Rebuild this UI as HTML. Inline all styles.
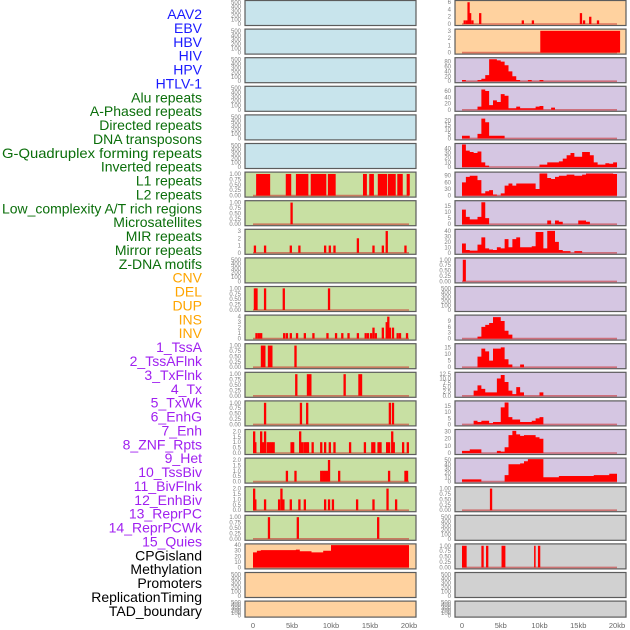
<!DOCTYPE html>
<html><head><meta charset="utf-8"><style>
html,body{margin:0;padding:0;background:#fff}
svg{display:block;font-family:"Liberation Sans",sans-serif}
</style></head><body>
<svg id="chart" width="630" height="630" viewBox="0 0 630 630"></svg>
<script>
// ---------- data ----------
const trackLabels = ["AAV2","EBV","HBV","HIV","HPV","HTLV-1","Alu repeats","A-Phased repeats","Directed repeats","DNA transposons","G-Quadruplex forming repeats","Inverted repeats","L1 repeats","L2 repeats","Low_complexity A/T rich regions","Microsatellites","MIR repeats","Mirror repeats","Z-DNA motifs","CNV","DEL","DUP","INS","INV","1_TssA","2_TssAFlnk","3_TxFlnk","4_Tx","5_TxWk","6_EnhG","7_Enh","8_ZNF_Rpts","9_Het","10_TssBiv","11_BivFlnk","12_EnhBiv","13_ReprPC","14_ReprPCWk","15_Quies","CPGisland","Methylation","Promoters","ReplicationTiming","TAD_boundary"];
const labelGroups = [6,13,5,15,5]; // blue, green, orange, purple, black
const xTicks = [0,5,10,15,20];
const xTickLabels = ["0","5kb","10kb","15kb","20kb"];

// left column event data (kb)
const l1Start = [0.4,4.2,5.5,7.4,9.6,14.1,14.9,16.0,17.3,18.5,19.7];
const l1End   = [2.2,4.9,7.1,9.4,10.6,14.6,15.5,17.2,18.3,19.2,20.1];
const l2Pos = [4.8]; const l2H = [1];
const microPos = [0.1,1.4,4.7,5.8,9.1,9.7,10.3,13.3,15.3,16.5,17.0,19.4];
const microH   = [1,1,1,1,1,1,1,2,1,1,3,1];
const cnvPos = [0.1,0.3,1.4,3.8,9.6]; const cnvH = [1,1,1,1,1];
const dupPos = [0.3,0.6,0.9,3.85,4.2,4.7,5.5,6.5,7.6,9.4,10.5,11.3,12.1,13.3,14.3,14.6,15.0,15.3,15.6,16.5,17.0,17.2,17.4,17.8,18.4,18.7,19.6];
const dupH   = [1,1,1,1,1,1,1,1,1,1,1,1,1,1,1,1,1,2,1,2,3,4,2,2,1,1,1];
const invStart = [1.0,1.9,5.3]; const invEnd = [1.6,2.5,5.6];
const flnkStart = [5.4,6.9,11.6,13.5]; const flnkEnd = [5.7,7.5,11.9,14.0];
const txPos = [1.4,6.0,6.8,17.4,17.8]; const txH = [1,1,1,1,1];
const enhPos = [0.0,0.15,0.9,1.15,1.4,1.75,2.0,2.25,2.5,4.8,5.0,5.9,6.15,6.45,6.7,6.9,7.5,8.6,9.1,9.7,10.3,12.3,14.2,15.15,15.4,15.95,16.2,17.05,17.3,17.7,17.9,19.1,19.7];
const enhH   = [2,1,2,1,2,1,1,1,1,1,1,2,1,1,1,1,1,1,1,1,1,1,1,1,1,1,1,1,1,2,1,1,1];
const znfPos = [4.2,5.3,8.6,8.85,9.1,9.35,9.6,10.9,17.3,19.4,19.6];
const znfH   = [1,1,1,1,1,1,2,1,1,1,1];
const bivPos = [0.0,0.15,1.4,3.2,3.5,3.75,4.7,5.8,6.5,9.1,9.6,10.1,13.2,15.3,17.1,18.2];
const bivH   = [2,1,1,1,2,1,1,1,1,1,1,1,1,1,2,1];
const reprPos = [1.9,5.6,15.9]; const reprH = [1,1,1];
const cpgBins = [27,30,31,31,31,31,31,31,31,31,31,32,29,29,29,27,27,27,30,30,40,40,40,40,40,40,40,40,40,40,40,40,40,40,40,40,40,40,40,40];

// right column data
const aavPos = [0.2,0.5,0.7,0.9,1.2,2.2,7.7,9.0,15.2,15.6,16.4,17.4];
const aavH   = [1,1,6,3,1,3,1,1,3,1,2,1];
const hbvStart = [10.1]; const hbvEnd = [20.4]; const hbvVal = [3];
const hivBins = [5,0,0,0,5,10,25,90,90,85,80,65,40,20,5,0,0,5,0,0,5,0,0,0,0,0,0,0,0,0,0,0,0,0,0,0,0,0,0,0];
const aluBins = [0,0,0,0,10,65,60,15,30,25,50,45,5,5,10,5,5,5,5,10,12,0,0,7,0,0,0,0,0,0,0,0,0,0,0,0,0,0,0,0];
const dirBins = [3,3,0,0,5,22,18,3,3,3,3,0,0,0,0,0,0,0,0,0,0,0,0,0,0,0,0,0,0,0,0,0,0,0,0,0,0,0,0,0];
const gqBins  = [48,35,32,30,33,10,3,0,0,0,0,0,0,0,0,0,0,0,0,0,5,5,10,10,10,12,18,25,30,22,22,32,32,25,10,5,5,8,7,10];
const l1Bins  = [60,85,90,90,70,10,20,25,5,0,10,45,55,45,55,55,55,55,55,30,100,100,80,75,85,90,90,95,95,90,90,95,100,100,100,100,100,100,100,98];
const lowBins = [12,6,4,4,6,18,5,0,0,0,0,0,0,0,0,0,0,0,0,0,0,0,3,0,3,2,0,0,0,0,3,3,2,0,0,0,0,0,0,0];
const mirBins = [17,5,4,4,15,28,8,6,5,10,8,25,10,25,28,10,10,10,12,38,38,8,40,40,20,5,3,3,0,3,3,0,0,0,0,0,0,0,0,0];
const zdnaStart = [0.1]; const zdnaEnd = [0.5];
const insBins  = [0,0,0,0,1,6,7,8,11,11,9,4,2,0,0,0,0,0,0,0,0,0,0,0,0,0,0,0,0,0,0,0,0,0,0,0,0,0,0,0];
const tssaBins = [0,0,0,0,8,14,12,5,14,14,15,6,2,0,0,2,0,0,0,0,0,0,0,0,0,0,0,0,0,0,0,0,0,0,0,0,0,0,0,0];
const txflBins = [0,0,0,3,6,4,2,2,2,10,12,8,3,1,5,2,0,0,0,0,2,0,0,0,0,0,0,0,0,0,0,0,0,0,0,0,0,0,0,0];
const txwkBins = [0,0,0,3,2,3,3,1,2,2,14,18,6,4,4,2,2,2,3,5,6,0,0,0,0,0,0,0,0,0,0,0,0,0,0,0,0,0,0,0];
const enhRBins = [3,3,5,5,5,0,0,0,0,3,2,8,25,31,26,24,25,25,25,22,20,0,0,0,0,0,0,0,0,0,0,0,0,0,0,0,0,0,0,0];
const hetBins  = [5,5,5,5,5,0,0,0,0,0,0,15,40,40,40,42,47,52,52,52,52,10,10,10,10,13,13,13,13,13,13,13,13,13,15,15,15,15,18,18];
const bflPos = [3.6]; const bflH = [1];
const qStart = [0.0,2.5,3.1,5.1,9.3,9.8]; const qEnd = [0.6,2.8,3.4,5.6,9.5,10.1];

// ---------- layout helpers ----------
const svg = document.getElementById('chart');
const NS = 'http://www.w3.org/2000/svg';
function mk(tag, attrs, parent){const e=document.createElementNS(NS,tag);for(const k in attrs)e.setAttribute(k,attrs[k]);(parent||svg).appendChild(e);return e;}
const COL = {blue:'#c8e4ec',orange:'#ffd29f',purple:'#d5c6e2',green:'#c8e0a3',gray:'#d1d1d1'};
const SIDES = {L:{px:245,pw:171,x0:253,x1:409,tx:241},R:{px:455,pw:171,x0:462,x1:617,tx:451}};
function rowTop(i){return 0.5+i*28.6;}
function rowH(i){return i===21?16:25;}
function xScale(side,kb){const s=SIDES[side];return s.x0+(s.x1-s.x0)*kb/20;}
function yScale(i,v,max){const B=rowTop(i)+rowH(i);const h=rowH(i)-2.5;return B-1.5-v/max*h;}

// row specs
const rowsL = [
 {bg:'blue',ticks:[0,100,200,300,400,500],max:520},
 {bg:'blue',ticks:[0,100,200,300,400,500],max:520},
 {bg:'blue',ticks:[0,100,200,300,400,500],max:520},
 {bg:'blue',ticks:[0,100,200,300,400,500],max:520},
 {bg:'blue',ticks:[0,100,200,300,400,500],max:520},
 {bg:'blue',ticks:[0,100,200,300,400,500],max:520},
 {bg:'green',ticks:[0,0.25,0.5,0.75,1],fmt:2,max:1.04,seg:[l1Start,l1End]},
 {bg:'green',ticks:[0,0.25,0.5,0.75,1],fmt:2,max:1.04,ev:[l2Pos,l2H]},
 {bg:'green',ticks:[0,1,2,3],max:3.1,ev:[microPos,microH]},
 {bg:'green',ticks:[0,100,200,300,400,500],max:520},
 {bg:'green',ticks:[0,0.25,0.5,0.75,1],fmt:2,max:1.04,ev:[cnvPos,cnvH]},
 {bg:'green',ticks:[0,1,2,3,4],max:4.1,ev:[dupPos,dupH]},
 {bg:'green',ticks:[0,0.25,0.5,0.75,1],fmt:2,max:1.04,seg:[invStart,invEnd]},
 {bg:'green',ticks:[0,0.25,0.5,0.75,1],fmt:2,max:1.04,seg:[flnkStart,flnkEnd]},
 {bg:'green',ticks:[0,0.25,0.5,0.75,1],fmt:2,max:1.04,ev:[txPos,txH]},
 {bg:'green',ticks:[0,0.5,1,1.5,2],fmt:1,max:2.08,ev:[enhPos,enhH]},
 {bg:'green',ticks:[0,0.5,1,1.5,2],fmt:1,max:2.08,ev:[znfPos,znfH]},
 {bg:'green',ticks:[0,0.5,1,1.5,2],fmt:1,max:2.08,ev:[bivPos,bivH]},
 {bg:'green',ticks:[0,0.25,0.5,0.75,1],fmt:2,max:1.04,ev:[reprPos,reprH]},
 {bg:'orange',ticks:[0,10,20,30,40],max:40.5,bins:cpgBins},
 {bg:'orange',ticks:[0,100,200,300,400,500],max:520},
 {bg:'orange',ticks:[0,100,200,300,400,500],max:520}
];
const rowsR = [
 {bg:'orange',ticks:[0,2,4,6],max:6.2,ev:[aavPos,aavH]},
 {bg:'orange',ticks:[0,1,2,3],max:3.1,seg:[hbvStart,hbvEnd],segV:hbvVal},
 {bg:'purple',ticks:[0,20,40,60,80],max:92,bins:hivBins},
 {bg:'purple',ticks:[0,20,40,60],max:72,bins:aluBins},
 {bg:'purple',ticks:[0,5,10,15,20],max:25,bins:dirBins},
 {bg:'purple',ticks:[0,10,20,30,40],max:48,bins:gqBins},
 {bg:'purple',ticks:[0,30,60,90],max:102,bins:l1Bins},
 {bg:'purple',ticks:[0,5,10,15],max:18.5,bins:lowBins},
 {bg:'purple',ticks:[0,10,20,30,40],max:41,bins:mirBins},
 {bg:'purple',ticks:[0,0.25,0.5,0.75,1],fmt:2,max:1.04,seg:[zdnaStart,zdnaEnd]},
 {bg:'purple',ticks:[0,100,200,300,400,500],max:520},
 {bg:'purple',ticks:[0,3,6,9],max:11.5,bins:insBins},
 {bg:'purple',ticks:[0,5,10,15],max:17,bins:tssaBins},
 {bg:'purple',ticks:[0,2.5,5,7.5,10,12.5],fmt:1,max:13,bins:txflBins},
 {bg:'purple',ticks:[0,5,10,15],max:18.5,bins:txwkBins},
 {bg:'purple',ticks:[0,10,20,30],max:31.5,bins:enhRBins},
 {bg:'purple',ticks:[0,10,20,30,40,50],max:52,bins:hetBins},
 {bg:'gray',ticks:[0,0.25,0.5,0.75,1],fmt:2,max:1.04,ev:[bflPos,bflH]},
 {bg:'gray',ticks:[0,100,200,300,400,500],max:520},
 {bg:'gray',ticks:[0,0.25,0.5,0.75,1],fmt:2,max:1.04,seg:[qStart,qEnd]},
 {bg:'gray',ticks:[0,100,200,300,400,500],max:520},
 {bg:'gray',ticks:[0,100,200,300,400,500],max:520}
];

function drawRow(side,i,spec){
  const s=SIDES[side], T=rowTop(i), H=rowH(i);
  const g=mk('g',{});
  
  
  mk('rect',{x:s.px,y:T,width:s.pw,height:H,fill:COL[spec.bg],stroke:'#5c5c5c','stroke-width':1.2},g);
  // ticks
  spec.ticks.forEach(t=>{
    const tl=mk('text',{x:s.tx,y:yScale(i,t,spec.max)+2,'text-anchor':'end','font-size':6,fill:'#808080'},g);
    
    
    tl.textContent = spec.fmt ? t.toFixed(spec.fmt) : String(t);
  });
  const hasData = spec.ev||spec.seg||spec.bins;
  if(!hasData) return;
  const y0=yScale(i,0,spec.max);
  mk('line',{x1:xScale(side,0),x2:xScale(side,20),y1:y0,y2:y0,stroke:'rgba(200,40,40,0.55)','stroke-width':1.6},g);
  if(spec.bins){
    let d='M'+xScale(side,0)+','+y0;
    spec.bins.forEach((v,k)=>{
      const y=yScale(i,v,spec.max);
      d+=' L'+xScale(side,k*0.5)+','+y+' L'+xScale(side,(k+1)*0.5)+','+y;
    });
    d+=' L'+xScale(side,20)+','+y0+' Z';
    const p=mk('path',{d:d,fill:'#ff0000'},g);
    
    
  }
  if(spec.seg){
    const [st,en]=spec.seg;
    st.forEach((a,k)=>{
      const v=spec.segV?spec.segV[k]:1;
      const x=xScale(side,a), w=Math.max(1.5,xScale(side,en[k])-x), y=yScale(i,v,spec.max);
      const r=mk('rect',{x:x,y:y,width:w,height:y0-y,fill:'#ff0000'},g);
      
      
    });
  }
  if(spec.ev){
    const [pos,h]=spec.ev;
    pos.forEach((a,k)=>{
      const x=xScale(side,a), y=yScale(i,h[k],spec.max);
      const r=mk('rect',{x:x,y:y,width:2.3,height:y0-y,fill:'#ff0000'},g);
      
      
    });
  }
}
rowsL.forEach((r,i)=>drawRow('L',i,r));
rowsR.forEach((r,i)=>drawRow('R',i,r));

// x axes
['L','R'].forEach(side=>{
  xTicks.forEach((t,k)=>{
    const tx=mk('text',{x:xScale(side,t),y:628,'text-anchor':'middle','font-size':7.5,fill:'#666'});
    
    
    tx.textContent=xTickLabels[k];
  });
});

// labels
const groupColors=['#1a1aff','#0a6e0a','#ffa500','#a020f0','#000000'];
let gi=0, cnt=0;
trackLabels.forEach((lab,k)=>{
  while(cnt>=labelGroups[gi]){cnt=0;gi++;}
  cnt++;
  const t=mk('text',{x:202,y:19+k*13.88,'text-anchor':'end','font-size':14,fill:groupColors[gi]});
  if(lab.length>25){t.setAttribute('textLength','200');t.setAttribute('lengthAdjust','spacingAndGlyphs');}
  
  
  t.textContent=lab;
});
</script>
</body></html>
